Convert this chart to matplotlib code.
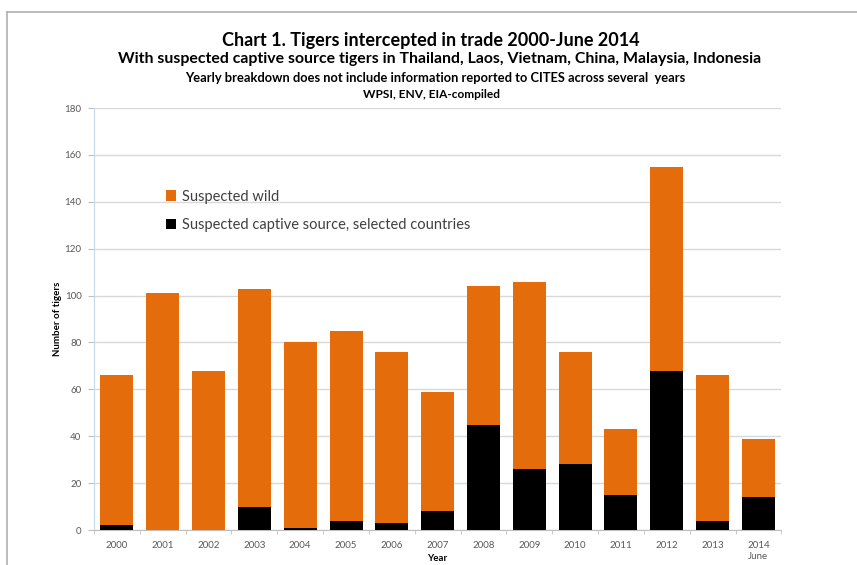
import numpy as np
import matplotlib.pyplot as plt
from matplotlib.lines import Line2D

years = ["2000", "2001", "2002", "2003", "2004", "2005", "2006", "2007",
         "2008", "2009", "2010", "2011", "2012", "2013", "2014\nJune"]
total = [66, 101, 68, 103, 80, 85, 76, 59, 104, 106, 76, 43, 155, 66, 39]
captive = [2, 0, 0, 10, 1, 4, 3, 8, 45, 26, 28, 15, 68, 4, 14]

wild = [t - c for t, c in zip(total, captive)]

plt.rcParams['font.family'] = ['Lato', 'DejaVu Sans']

fig = plt.figure(figsize=(8.57, 5.65), dpi=100)
ax = fig.add_axes([0.1097, 0.0619, 0.802, 0.7469])

x = np.arange(len(years))
ax.bar(x, captive, width=0.72, color="#000000", zorder=3,
       label="Suspected captive source, selected countries")
ax.bar(x, wild, width=0.72, bottom=captive, color="#E46C0A", zorder=3,
       label="Suspected wild")

ax.set_xlim(-0.5, len(years) - 0.5)
ax.set_ylim(0, 180)
ax.set_yticks(range(0, 181, 20))
ax.set_xticks(x)
ax.set_xticklabels(years, fontsize=7, color="#595959")
ax.set_xticks(np.arange(-0.5, len(years), 1), minor=True)
ax.tick_params(axis="x", which="major", length=0, pad=8)
ax.tick_params(axis="x", which="minor", length=3, color="#bfbfbf")
ax.tick_params(axis="y", length=4, color="#bfbfbf", labelsize=7,
               labelcolor="#595959", pad=5)
ax.grid(axis="y", color="#d9d9d9", linewidth=1, zorder=0)

for s in ["top", "right"]:
    ax.spines[s].set_visible(False)
ax.spines["left"].set_color("#c8d8e8")
ax.spines["bottom"].set_color("#bfbfbf")

ax.set_ylabel("Number of tigers", fontsize=7, fontweight="bold", labelpad=2)
ax.set_xlabel("Year", fontsize=7, fontweight="bold")
ax.xaxis.set_label_coords(0.5, -0.057)

h, l = ax.get_legend_handles_labels()
ax.legend(h[::-1], l[::-1], loc="upper left", bbox_to_anchor=(0.085, 0.838),
          frameon=False, fontsize=10.5, labelcolor="#404040",
          handlelength=0.7, handleheight=0.7, handletextpad=0.4,
          labelspacing=1.0)

fig.text(0.503, 0.929, "Chart 1. Tigers intercepted in trade 2000-June 2014",
         ha="center", va="center", fontsize=13, fontweight="bold")
fig.text(0.513, 0.895, "With suspected captive source tigers in Thailand, Laos, "
         "Vietnam, China, Malaysia, Indonesia",
         ha="center", va="center", fontsize=11.4, fontweight="bold")
fig.text(0.508, 0.862, "Yearly breakdown does not include information reported "
         "to CITES across several  years",
         ha="center", va="center", fontsize=9.3, fontweight="bold")
fig.text(0.503, 0.833, "WPSI, ENV, EIA-compiled",
         ha="center", va="center", fontsize=8.6, fontweight="bold")

# outer chart frame
fig.add_artist(Line2D([0.0085, 1.0], [0.979, 0.979], color="#b0b0b0", lw=1.2))
fig.add_artist(Line2D([0.0085, 0.0085], [0.0, 0.979], color="#b0b0b0", lw=1.2))

fig.savefig("out.png", dpi=100)
